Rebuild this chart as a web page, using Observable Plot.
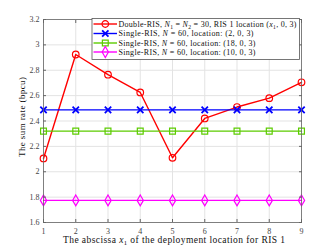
<!DOCTYPE html>
<html><head><meta charset="utf-8">
<script src="https://cdn.jsdelivr.net/npm/d3@7"></script>
<script src="https://cdn.jsdelivr.net/npm/@observablehq/plot@0.6"></script>
<style>body{margin:0;background:#fff}</style>
</head><body><div id="chart"></div>
<script>
const xs = [1, 2, 3, 4, 5, 6, 7, 8, 9];
const doubleRIS = [2.105, 2.924, 2.765, 2.625, 2.11, 2.42, 2.51, 2.58, 2.705];
const single2 = [2.488, 2.488, 2.488, 2.488, 2.488, 2.488, 2.488, 2.488, 2.488];
const single18 = [2.32, 2.32, 2.32, 2.32, 2.32, 2.32, 2.32, 2.32, 2.32];
const single10 = [1.774, 1.774, 1.774, 1.774, 1.774, 1.774, 1.774, 1.774, 1.774];
const xTicks = [1, 2, 3, 4, 5, 6, 7, 8, 9];
const yTicks = [1.6, 1.8, 2, 2.2, 2.4, 2.6, 2.8, 3, 3.2];
const seriesNames = ["double", "s2", "s18", "s10"];
const colors = ["#ff0000", "#0000ff", "#5ccc00", "#ff00ff"];
const symbols = ["circle", "times", "square", "diamond"];
const legendLabels = [
  [["Double-RIS, ",""],["N","i"],["1","s"],[" = ",""],["N","i"],["2","s"],[" = 30, RIS 1 location (",""],["x","i"],["1","s"],[", 0, 3)",""]],
  [["Single-RIS, ",""],["N","i"],[" = 60, location: (2, 0, 3)",""]],
  [["Single-RIS, ",""],["N","i"],[" = 60, location: (18, 0, 3)",""]],
  [["Single-RIS, ",""],["N","i"],[" = 60, location: (10, 0, 3)",""]]
];
const xLabel = [["The abscissa ",""],["x","i"],["1","s"],[" of the deployment location for RIS 1",""]];
const yLabel = "The sum rate (bpcu)";

const allSeries = [doubleRIS, single2, single18, single10];
const rows = [];
allSeries.forEach((vals, si) => vals.forEach((v, i) => rows.push({x: xs[i], y: v, s: seriesNames[si]})));

const font = "'Liberation Serif', 'DejaVu Serif', serif";
const marks = [
  Plot.gridX(xTicks, {stroke: "#e3e3e3", strokeOpacity: 1}),
  Plot.gridY(yTicks, {stroke: "#e3e3e3", strokeOpacity: 1}),
];
seriesNames.forEach((s, i) => {
  const d = rows.filter(r => r.s === s);
  marks.push(Plot.line(d, {x: "x", y: "y", stroke: colors[i], strokeWidth: 1.4}));
  marks.push(Plot.dot(d, {x: "x", y: "y", stroke: colors[i], symbol: symbols[i], r: i === 1 ? 3 : 3.3, strokeWidth: i === 1 ? 1.8 : 1.2, fill: "none"}));
});
marks.push(Plot.frame({stroke: "#666", strokeWidth: 0.8}));
marks.push(Plot.axisY(yTicks, {anchor: "left", tickSize: 3, dx: 3, tickPadding: 4, tickFormat: d => String(d), label: null, stroke: "#666", fill: "#444"}));
marks.push(Plot.axisY(yTicks, {anchor: "right", tickSize: 3, dx: -3, tickFormat: () => "", label: null, stroke: "#666"}));
marks.push(Plot.axisX(xTicks, {anchor: "bottom", tickSize: 3, dy: -3, tickPadding: 6, tickFormat: d => String(d), label: null, stroke: "#666", fill: "#444"}));
marks.push(Plot.axisX(xTicks, {anchor: "top", tickSize: 3, dy: 3, tickFormat: () => "", label: null, stroke: "#666"}));

const svg = Plot.plot({
  width: 332, height: 249,
  marginLeft: 43, marginRight: 31, marginTop: 19, marginBottom: 27,
  x: {domain: [1, 9]},
  y: {domain: [1.6, 3.2]},
  style: {fontFamily: font, fontSize: "8px", background: "#fff"},
  marks
});
document.getElementById("chart").appendChild(svg);

function richText(parent, segs, size) {
  let off = 0;
  segs.forEach(([t, k]) => {
    const ts = parent.append("tspan").text(t);
    if (k === "i") ts.attr("font-style", "italic");
    if (k === "s") {
      ts.attr("font-size", size * 0.7).attr("dy", 2 - off);
      off = 2;
    } else if (off) {
      ts.attr("dy", -off);
      off = 0;
    }
  });
}

const symMap = {circle: d3.symbolCircle, times: d3.symbolTimes, square: d3.symbolSquare, diamond: d3.symbolDiamond};
const sel = d3.select(svg);
const lg = sel.append("g").attr("font-family", font).attr("text-anchor", "start");
lg.append("rect").attr("x", 92).attr("y", 18.5).attr("width", 207.5).attr("height", 41)
  .style("fill", "#fff").style("stroke", "#555").style("stroke-width", "0.8px");
const rowY = [24, 33.5, 43, 52];
const legendLen = [178, 135, 137, 137];
rowY.forEach((yy, i) => {
  lg.append("line").attr("x1", 93.5).attr("x2", 117).attr("y1", yy).attr("y2", yy)
    .style("stroke", colors[i]).style("stroke-width", "1.4px");
  lg.append("path").attr("d", d3.symbol(symMap[symbols[i]], i === 1 ? 28 : 34)())
    .attr("transform", `translate(105.3,${yy})`).style("fill", "none").style("stroke", colors[i])
    .style("stroke-width", i === 1 ? "1.8px" : "1.2px");
  const t = lg.append("text").attr("x", 118.5).attr("y", yy + 2.7).attr("font-size", 8).attr("fill", "#111")
    .attr("textLength", legendLen[i]).attr("lengthAdjust", "spacing");
  richText(t, legendLabels[i], 8);
});
const xl = sel.append("text").attr("x", 174).attr("y", 243).attr("text-anchor", "middle")
  .attr("font-family", font).attr("font-size", 9.5).attr("fill", "#111")
  .attr("textLength", 222).attr("lengthAdjust", "spacing");
richText(xl, xLabel, 9.5);
sel.append("text").attr("transform", "translate(25,117) rotate(-90)").attr("text-anchor", "middle")
  .attr("font-family", font).attr("font-size", 9).attr("fill", "#111")
  .attr("textLength", 80).attr("lengthAdjust", "spacing").text(yLabel);
</script></body></html>
